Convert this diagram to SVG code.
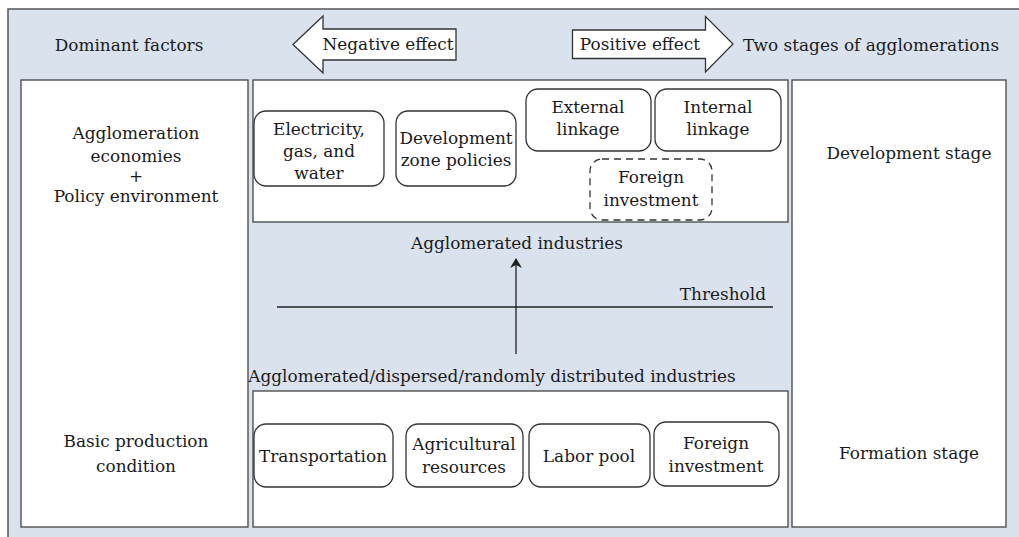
<svg xmlns="http://www.w3.org/2000/svg" width="1019" height="537" viewBox="0 0 1019 537">
<style>
text{font-family:"DejaVu Serif","Liberation Serif",serif;font-size:16.9px;fill:#1a1a1a;text-anchor:middle}
.panel{fill:#fff;stroke:#444;stroke-width:1.3}
.node{fill:#fff;stroke:#333;stroke-width:1.3}
.dash{fill:#fff;stroke:#333;stroke-width:1.3;stroke-dasharray:7 5}
.big{fill:#fff;stroke:#333;stroke-width:1.3}
</style>
<defs>
<marker id="ah" markerWidth="10" markerHeight="12" refX="9" refY="6" orient="auto" markerUnits="userSpaceOnUse">
<path d="M0,0 L10,6 L0,12 L3,6 Z" fill="#222"/>
</marker>
</defs>
<rect x="0" y="0" width="1019" height="537" fill="#fff"/>
<path d="M8,537 V9 H1019 V537 Z" fill="#dae2ed" stroke="none"/>
<path d="M8,537 V9 H1019" fill="none" stroke="#555" stroke-width="1.5"/>
<g id="header">
<text x="129" y="51">Dominant factors</text>
<text x="871" y="51">Two stages of agglomerations</text>
</g>
<g id="negative-effect">
<path class="big" d="M293,44.5 L323,16 L323,29 L456,29 L456,60 L323,60 L323,73 Z"/>
<text x="388" y="50">Negative effect</text>
</g>
<g id="positive-effect">
<path class="big" d="M572.5,30 L705.5,30 L705.5,16.5 L733,44 L705.5,72 L705.5,58.5 L572.5,58.5 Z"/>
<text x="640" y="50">Positive effect</text>
</g>

<g id="left-panel">
<rect class="panel" x="21" y="80" width="227" height="447"/>
<text x="136" y="139">Agglomeration</text>
<text x="136" y="162">economies</text>
<text x="136" y="182">+</text>
<text x="136" y="202">Policy environment</text>
<text x="136" y="447">Basic production</text>
<text x="136" y="472">condition</text>
</g>
<g id="right-panel">
<rect class="panel" x="792" y="80" width="214" height="447"/>
<text x="909" y="159">Development stage</text>
<text x="909" y="459">Formation stage</text>
</g>
<g id="top-panel">
<rect class="panel" x="253" y="80" width="535" height="142"/>
</g>
<g id="bottom-panel">
<rect class="panel" x="253" y="391" width="535" height="136"/>
</g>

<g id="electricity">
<rect class="node" x="254" y="111" width="130" height="75" rx="12"/>
<text x="319" y="135">Electricity,</text>
<text x="319" y="157">gas, and</text>
<text x="319" y="179">water</text>
</g>
<g id="development-zone">
<rect class="node" x="396" y="111" width="120" height="75" rx="12"/>
<text x="456" y="144">Development</text>
<text x="456" y="166">zone policies</text>
</g>
<g id="external-linkage">
<rect class="node" x="526" y="89" width="125" height="62" rx="12"/>
<text x="588" y="113">External</text>
<text x="588" y="135">linkage</text>
</g>
<g id="internal-linkage">
<rect class="node" x="655" y="89" width="126" height="62" rx="12"/>
<text x="718" y="113">Internal</text>
<text x="718" y="135">linkage</text>
</g>
<g id="foreign-investment-top">
<rect class="dash" x="590" y="159" width="122" height="61" rx="12"/>
<text x="651" y="183">Foreign</text>
<text x="651" y="206">investment</text>
</g>

<g id="agglomerated-industries">
<text x="517" y="249">Agglomerated industries</text>
</g>
<g id="threshold">
<line x1="277" y1="307" x2="773" y2="307" stroke="#222" stroke-width="1.3"/>
<text x="766" y="300" style="text-anchor:end">Threshold</text>
</g>
<g id="distributed-industries">
<text x="492" y="382">Agglomerated/dispersed/randomly distributed industries</text>
</g>

<g id="transportation">
<rect class="node" x="254" y="424" width="139" height="63" rx="12"/>
<text x="323" y="462">Transportation</text>
</g>
<g id="agricultural">
<rect class="node" x="406" y="424" width="117" height="63" rx="12"/>
<text x="464" y="450">Agricultural</text>
<text x="464" y="473">resources</text>
</g>
<g id="labor-pool">
<rect class="node" x="529" y="424" width="121" height="63" rx="12"/>
<text x="589" y="462">Labor pool</text>
</g>
<g id="foreign-investment-bottom">
<rect class="node" x="654" y="422" width="125" height="64" rx="12"/>
<text x="716" y="449">Foreign</text>
<text x="716" y="472">investment</text>
</g>
<g id="connectors">
<line x1="516" y1="354" x2="516" y2="259" stroke="#222" stroke-width="1.3" marker-end="url(#ah)"/>
</g>
</svg>
